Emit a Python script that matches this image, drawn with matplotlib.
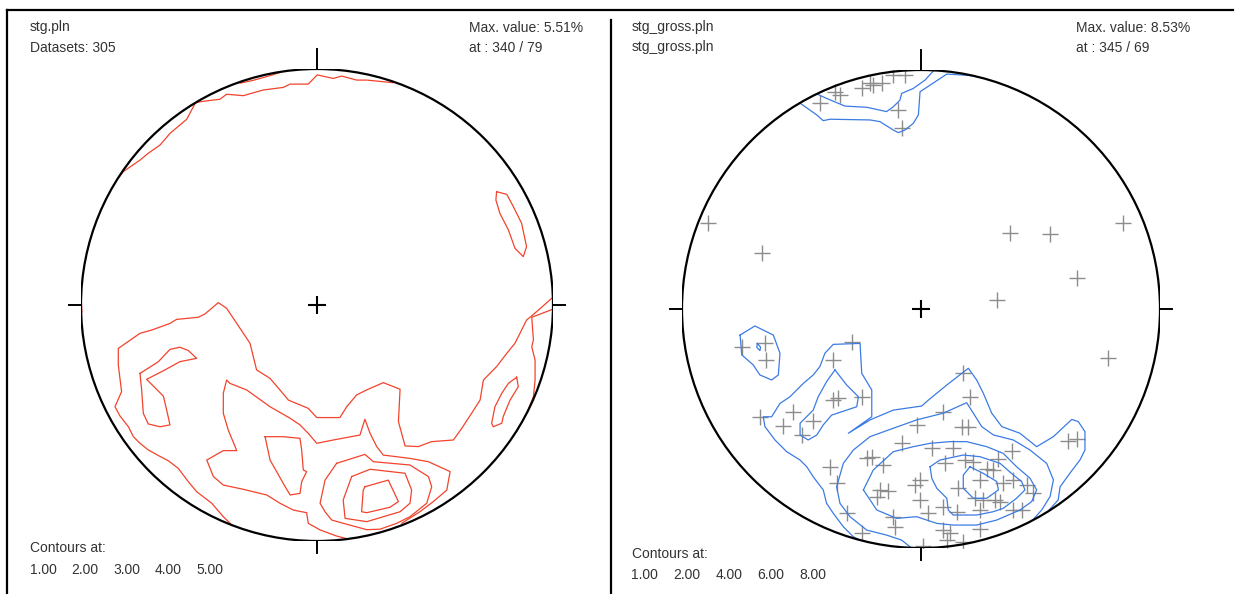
import matplotlib
matplotlib.use("Agg")
import matplotlib.pyplot as plt
from matplotlib.patches import Circle
from matplotlib.lines import Line2D

W, H = 1235, 594
plt.rcParams["font.family"] = ["Liberation Sans", "DejaVu Sans"]

# ---------------------------------------------------------------------------
# Data (projected stereonet coordinates, unit primitive circle)
# ---------------------------------------------------------------------------
left_name = "stg.pln"
left_count = 305
left_max = 5.51
left_max_at = (340, 79)
left_levels = [1.00, 2.00, 3.00, 4.00, 5.00]

right_name = "stg_gross.pln"
right_max = 8.53
right_max_at = (345, 69)
right_levels = [1.00, 2.00, 4.00, 6.00, 8.00]

# left net, 1.00 %
l1_south = [(-0.361, -0.932), (-0.397, -0.897), (-0.446, -0.840), (-0.510, -0.791),
            (-0.545, -0.749), (-0.588, -0.692), (-0.630, -0.660), (-0.672, -0.638),
            (-0.715, -0.614), (-0.750, -0.586), (-0.778, -0.558), (-0.799, -0.516),
            (-0.835, -0.470), (-0.856, -0.431), (-0.828, -0.367), (-0.842, -0.254),
            (-0.842, -0.184), (-0.750, -0.120), (-0.700, -0.106), (-0.623, -0.078),
            (-0.595, -0.061), (-0.503, -0.052), (-0.475, -0.038), (-0.418, 0.010),
            (-0.383, -0.014), (-0.340, -0.078), (-0.284, -0.162), (-0.256, -0.275),
            (-0.199, -0.311), (-0.157, -0.360), (-0.121, -0.403), (-0.037, -0.438),
            (-0.001, -0.477), (0.097, -0.477), (0.126, -0.431), (0.168, -0.381),
            (0.210, -0.360), (0.281, -0.329), (0.352, -0.357), (0.345, -0.494),
            (0.373, -0.597), (0.429, -0.600), (0.486, -0.579), (0.578, -0.572),
            (0.613, -0.523), (0.655, -0.459), (0.691, -0.403), (0.705, -0.318),
            (0.761, -0.261), (0.804, -0.205), (0.839, -0.162), (0.888, -0.064),
            (0.931, -0.028), (0.994, 0.028)]
l1_east = [(0.999, -0.018), (0.910, -0.052), (0.917, -0.148), (0.910, -0.177),
           (0.924, -0.233), (0.924, -0.318), (0.917, -0.389), (0.890, -0.456)]
l1_east_loop = [(0.846, -0.306), (0.853, -0.346), (0.818, -0.403), (0.789, -0.473),
                (0.783, -0.501), (0.747, -0.516), (0.740, -0.501), (0.754, -0.431),
                (0.783, -0.374), (0.811, -0.332), (0.846, -0.306)]
l1_north = [(-0.858, 0.518), (-0.821, 0.565), (-0.750, 0.614), (-0.715, 0.643),
            (-0.665, 0.678), (-0.623, 0.727), (-0.552, 0.787), (-0.515, 0.857),
            (-0.490, 0.862), (-0.411, 0.872), (-0.383, 0.893), (-0.312, 0.887),
            (-0.228, 0.911), (-0.143, 0.922), (-0.114, 0.936), (-0.037, 0.936),
            (0.001, 0.975), (0.069, 0.960), (0.105, 0.970), (0.168, 0.953),
            (0.211, 0.953), (0.323, 0.942)]
l1_ne_loop = [(0.761, 0.480), (0.804, 0.469), (0.832, 0.417), (0.867, 0.346),
              (0.888, 0.247), (0.874, 0.205), (0.839, 0.240), (0.811, 0.318),
              (0.775, 0.388), (0.758, 0.445), (0.761, 0.480)]
l1_west = [(-0.999, 0.02), (-0.996, -0.03)]

# left net, 2.00 %
l2_north = [(-0.326, 0.940), (-0.270, 0.952), (-0.199, 0.972), (-0.16, 0.984)]
l2_hook = [(-0.750, -0.290), (-0.672, -0.240), (-0.623, -0.188), (-0.581, -0.179),
           (-0.545, -0.193), (-0.510, -0.226), (-0.581, -0.240), (-0.644, -0.275),
           (-0.722, -0.315), (-0.651, -0.386), (-0.637, -0.445), (-0.623, -0.508),
           (-0.665, -0.516), (-0.715, -0.504), (-0.736, -0.459), (-0.743, -0.360),
           (-0.750, -0.290)]
l2_south = [(0.126, -0.990), (0.083, -0.979), (0.013, -0.953), (-0.037, -0.925),
            (-0.044, -0.880), (-0.100, -0.869), (-0.157, -0.840), (-0.213, -0.805),
            (-0.312, -0.781), (-0.397, -0.763), (-0.439, -0.727), (-0.467, -0.657),
            (-0.397, -0.617), (-0.340, -0.617), (-0.376, -0.530), (-0.397, -0.459),
            (-0.397, -0.374), (-0.383, -0.318), (-0.369, -0.332), (-0.298, -0.360),
            (-0.199, -0.431), (-0.114, -0.480), (-0.072, -0.508), (-0.037, -0.544),
            (-0.001, -0.586), (0.069, -0.572), (0.182, -0.551), (0.203, -0.484),
            (0.225, -0.544), (0.253, -0.600), (0.281, -0.636), (0.338, -0.643),
            (0.394, -0.650), (0.472, -0.664), (0.564, -0.706), (0.550, -0.784),
            (0.493, -0.833), (0.436, -0.876), (0.359, -0.925)]

# left net, 3.00 %
l3_block = [(-0.220, -0.558), (-0.143, -0.558), (-0.072, -0.565), (-0.065, -0.614),
            (-0.058, -0.699), (-0.044, -0.706), (-0.065, -0.749), (-0.072, -0.798),
            (-0.114, -0.805), (-0.143, -0.756), (-0.171, -0.706), (-0.199, -0.657),
            (-0.220, -0.558)]
l3_peak = [(0.083, -0.671), (0.203, -0.633), (0.239, -0.664), (0.394, -0.678),
           (0.472, -0.727), (0.486, -0.770), (0.465, -0.840), (0.394, -0.897),
           (0.338, -0.925), (0.267, -0.950), (0.211, -0.952), (0.111, -0.925),
           (0.062, -0.911), (0.034, -0.876), (0.013, -0.840), (0.034, -0.742),
           (0.083, -0.671)]

# left net, 4.00 %
l4_peak = [(0.147, -0.727), (0.225, -0.696), (0.373, -0.713), (0.401, -0.784),
           (0.394, -0.840), (0.352, -0.876), (0.211, -0.918), (0.119, -0.904),
           (0.111, -0.826), (0.147, -0.727)]

# left net, 5.00 %
l5_peak = [(0.203, -0.770), (0.302, -0.742), (0.345, -0.833), (0.309, -0.857),
           (0.211, -0.880), (0.189, -0.876), (0.196, -0.784), (0.203, -0.770)]

left_contours = {
    1.00: [l1_south, l1_east, l1_east_loop, l1_north, l1_ne_loop, l1_west],
    2.00: [l2_north, l2_hook, l2_south],
    3.00: [l3_block, l3_peak],
    4.00: [l4_peak],
    5.00: [l5_peak],
}

# right net, 1.00 %
r1_north = [(-0.503, 0.859), (-0.436, 0.812), (-0.409, 0.788), (-0.381, 0.794),
            (-0.213, 0.791), (-0.172, 0.784), (-0.116, 0.749), (-0.095, 0.738),
            (-0.067, 0.749), (-0.032, 0.777), (-0.011, 0.812), (-0.004, 0.909),
            (0.108, 0.983), (0.204, 0.977), (0.247, 0.969)]
r1_south = [(-0.255, -0.967), (-0.283, -0.953), (-0.325, -0.911), (-0.367, -0.855),
            (-0.395, -0.813), (-0.409, -0.757), (-0.451, -0.702), (-0.478, -0.660),
            (-0.506, -0.632), (-0.562, -0.597), (-0.611, -0.548), (-0.653, -0.492),
            (-0.660, -0.451), (-0.625, -0.451), (-0.590, -0.395), (-0.548, -0.367),
            (-0.492, -0.311), (-0.451, -0.276), (-0.423, -0.241), (-0.402, -0.185),
            (-0.367, -0.148), (-0.255, -0.144), (-0.248, -0.269), (-0.206, -0.339),
            (-0.206, -0.451), (-0.304, -0.520), (-0.213, -0.464), (-0.116, -0.423),
            (0.003, -0.406), (0.031, -0.381), (0.108, -0.318), (0.198, -0.248),
            (0.233, -0.297), (0.261, -0.353), (0.296, -0.436), (0.338, -0.492),
            (0.414, -0.520), (0.484, -0.576), (0.554, -0.534), (0.631, -0.462),
            (0.658, -0.471), (0.686, -0.513), (0.686, -0.590), (0.665, -0.632),
            (0.623, -0.687), (0.582, -0.744), (0.574, -0.799), (0.530, -0.848)]

# right net, 2.00 %
r2_north = [(-0.436, 0.900), (-0.395, 0.881), (-0.318, 0.849), (-0.227, 0.844),
            (-0.144, 0.826), (-0.116, 0.846), (-0.088, 0.874), (-0.081, 0.902),
            (-0.032, 0.923), (0.017, 0.958), (0.052, 0.996)]
r2_west_loop = [(-0.757, -0.109), (-0.695, -0.071), (-0.618, -0.109), (-0.590, -0.185),
                (-0.597, -0.276), (-0.625, -0.297), (-0.674, -0.276), (-0.702, -0.234),
                (-0.750, -0.192), (-0.757, -0.109)]
r2_west_dot = [(-0.685, -0.144), (-0.671, -0.160), (-0.674, -0.174), (-0.687, -0.160),
               (-0.685, -0.144)]
r2_zloop = [(-0.360, -0.255), (-0.311, -0.318), (-0.262, -0.367), (-0.269, -0.409),
            (-0.374, -0.444), (-0.409, -0.485), (-0.436, -0.527), (-0.472, -0.548),
            (-0.506, -0.527), (-0.506, -0.478), (-0.451, -0.423), (-0.430, -0.367),
            (-0.395, -0.304), (-0.360, -0.255)]
r2_south = [(-0.046, -0.995), (-0.081, -0.967), (-0.144, -0.946), (-0.227, -0.925),
            (-0.297, -0.869), (-0.339, -0.813), (-0.353, -0.744), (-0.325, -0.646),
            (-0.283, -0.590), (-0.213, -0.534), (-0.116, -0.499), (-0.018, -0.464),
            (0.093, -0.436), (0.191, -0.392), (0.219, -0.436), (0.254, -0.492),
            (0.303, -0.527), (0.386, -0.548), (0.456, -0.590), (0.526, -0.646),
            (0.554, -0.715), (0.540, -0.785), (0.505, -0.841), (0.463, -0.888)]

# right net, 4.00 %
r4_ring = [(-0.241, -0.757), (-0.200, -0.674), (-0.116, -0.597), (-0.032, -0.576),
           (0.038, -0.562), (0.121, -0.555), (0.191, -0.555), (0.275, -0.576),
           (0.344, -0.604), (0.400, -0.660), (0.456, -0.708), (0.484, -0.757),
           (0.463, -0.806), (0.414, -0.841), (0.317, -0.883), (0.233, -0.904),
           (0.135, -0.904), (0.066, -0.897), (-0.018, -0.869), (-0.102, -0.876),
           (-0.185, -0.841), (-0.241, -0.757)]

# right net, 6.00 %
r6_ring = [(0.038, -0.660), (0.079, -0.632), (0.177, -0.611), (0.247, -0.618),
           (0.331, -0.646), (0.379, -0.688), (0.421, -0.722), (0.435, -0.757),
           (0.400, -0.792), (0.344, -0.834), (0.303, -0.848), (0.233, -0.862),
           (0.135, -0.862), (0.114, -0.841), (0.108, -0.792), (0.066, -0.750),
           (0.045, -0.708), (0.038, -0.660)]

# right net, 8.00 %
r8_ring = [(0.205, -0.660), (0.261, -0.688), (0.317, -0.722), (0.324, -0.757),
           (0.275, -0.792), (0.219, -0.792), (0.177, -0.750), (0.177, -0.695),
           (0.205, -0.660)]

right_contours = {
    1.00: [r1_north, r1_south],
    2.00: [r2_north, r2_west_loop, r2_west_dot, r2_zloop, r2_south],
    4.00: [r4_ring],
    6.00: [r6_ring],
    8.00: [r8_ring],
}

# right net, plotted poles
poles_x = [-0.890, -0.667, 0.372, 0.540, 0.844, 0.651, 0.317, -0.423, -0.360, -0.339,
           -0.248, -0.213, -0.200, -0.164, -0.116, -0.067, -0.095, -0.081,
           -0.750, -0.653, -0.649, -0.290, -0.367, 0.784, 0.174, 0.205, -0.248, -0.367,
           -0.346, -0.674, -0.451, -0.534, -0.499, -0.576, 0.093, -0.018, 0.170, 0.198,
           -0.081, 0.045, 0.135, 0.379, 0.616, 0.651, -0.206, -0.227, -0.158, -0.381,
           -0.353, -0.004, -0.025, -0.172, -0.137, -0.185, -0.004, 0.100, 0.184, 0.219,
           0.275, 0.303, 0.323, 0.344, 0.386, 0.442, 0.470, 0.247, 0.156, 0.226, 0.261,
           0.310, 0.331, 0.386, 0.421, 0.093, 0.149, 0.247, 0.031, -0.311, -0.116,
           -0.109, 0.093, 0.121, 0.247, -0.248, 0.108, 0.177, 0.010]
poles_y = [0.361, 0.233, 0.317, 0.314, 0.359, 0.128, 0.038, 0.861, 0.909, 0.895,
           0.923, 0.944, 0.937, 0.947, 0.979, 0.979, 0.833, 0.756,
           -0.158, -0.144, -0.213, -0.137, -0.213, -0.206, -0.269, -0.369, -0.369, -0.381,
           -0.374, -0.453, -0.467, -0.430, -0.527, -0.490, -0.430, -0.485, -0.492, -0.492,
           -0.562, -0.583, -0.583, -0.593, -0.551, -0.545, -0.618, -0.625, -0.653, -0.660,
           -0.729, -0.715, -0.736, -0.757, -0.760, -0.785, -0.799, -0.646, -0.632, -0.639,
           -0.671, -0.674, -0.629, -0.729, -0.715, -0.736, -0.771, -0.715, -0.750, -0.792,
           -0.799, -0.799, -0.806, -0.841, -0.841, -0.827, -0.848, -0.841, -0.855, -0.855,
           -0.869, -0.911, -0.925, -0.938, -0.922, -0.938, -0.967, -0.974, -0.990]

# ---------------------------------------------------------------------------
# Figure
# ---------------------------------------------------------------------------
fig = plt.figure(figsize=(W / 100, H / 100), dpi=100)
fig.patch.set_facecolor("white")


def net_axes(cx, cy, r):
    ax = fig.add_axes([(cx - r) / W, (H - cy - r) / H, 2 * r / W, 2 * r / H])
    ax.set_xlim(-1, 1)
    ax.set_ylim(-1, 1)
    ax.axis("off")
    return ax


def draw_net(ax, r, contours, color):
    circ = Circle((0, 0), 1.0, fill=False, ec="black", lw=1.6, zorder=4)
    ax.add_patch(circ)
    clip = Circle((0, 0), 1.0, transform=ax.transData)
    for level, lines in contours.items():
        for pts in lines:
            xs = [p[0] for p in pts]
            ys = [p[1] for p in pts]
            ln, = ax.plot(xs, ys, color=color, lw=0.9, zorder=3)
            ln.set_clip_path(clip)
    # N/E/S/W ticks
    long_t, short_t = 20 / r, 12 / r
    kw = dict(color="black", lw=1.4, clip_on=False, zorder=4)
    ax.plot([0, 0], [1, 1 + long_t], **kw)
    ax.plot([0, 0], [-1, -1 - short_t], **kw)
    ax.plot([-1, -1 - short_t], [0, 0], **kw)
    ax.plot([1, 1 + short_t], [0, 0], **kw)
    ax.plot([0], [0], marker="+", ms=13, mew=1.5, color="black", zorder=5)


ax_l = net_axes(317, 305, 236)
draw_net(ax_l, 236, left_contours, "#f2432c")

ax_r = net_axes(921, 309, 239)
ax_r.plot(poles_x, poles_y, ls="none", marker="+", ms=11, mew=1.0,
          color="#8c8c8c", zorder=2)
draw_net(ax_r, 239, right_contours, "#3b7be3")

# ---------------------------------------------------------------------------
# Frame lines
# ---------------------------------------------------------------------------
for xs, ys in [([7, 1233], [10, 10]), ([7, 7], [10, 594]), ([610.5, 610.5], [20, 594])]:
    fig.add_artist(Line2D([x / W for x in xs], [1 - y / H for y in ys],
                          transform=fig.transFigure, color="black", lw=1.6))

# ---------------------------------------------------------------------------
# Texts
# ---------------------------------------------------------------------------
TXT = dict(fontsize=10, color="#333333", va="baseline", ha="left")


def put(x, y, s):
    fig.text(x / W, 1 - y / H, s, **TXT)


put(30, 31.5, left_name)
put(30, 51.5, f"Datasets: {left_count}")
put(469, 31.5, f"Max. value: {left_max:.2f}%")
put(469, 51.5, f"at : {left_max_at[0]} / {left_max_at[1]}")
put(30, 552, "Contours at:")
for i, v in enumerate(left_levels):
    put(30 + 41.5 * i, 573.5, f"{v:.2f}")

put(631.5, 31.5, right_name)
put(631.5, 51.5, right_name)
put(1076.5, 31.5, f"Max. value: {right_max:.2f}%")
put(1076.5, 51.5, f"at : {right_max_at[0]} / {right_max_at[1]}")
put(631.5, 558, "Contours at:")
for i, v in enumerate(right_levels):
    put(631.5 + 42 * i, 579, f"{v:.2f}")

fig.savefig("out.png", dpi=100, facecolor="white")
